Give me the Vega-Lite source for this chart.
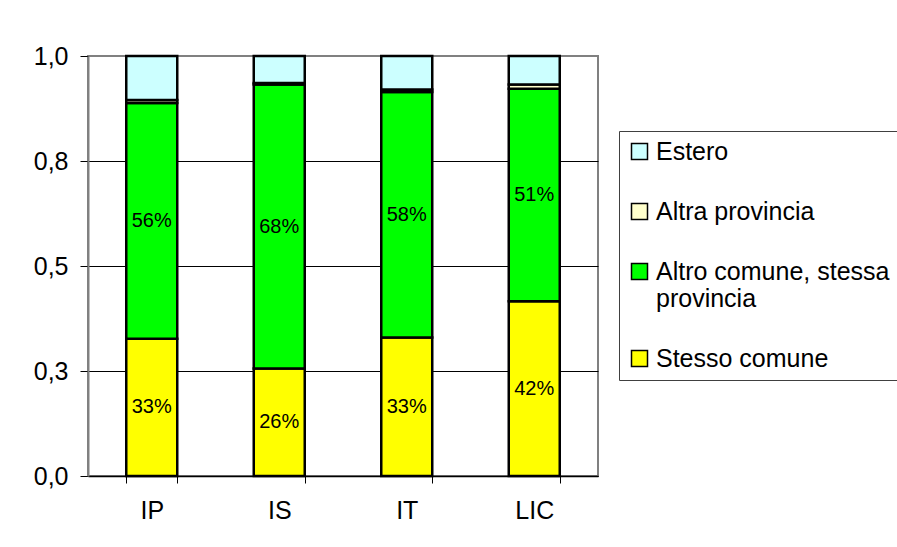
{
  "$schema": "https://vega.github.io/schema/vega-lite/v6.json",
  "width": 510,
  "height": 420,
  "autosize": {"type": "none"},
  "padding": {"left": 88, "top": 56, "right": 299, "bottom": 71},
  "background": "white",
  "config": {
    "font": "Liberation Sans",
    "view": {"stroke": "#808080", "strokeWidth": 2}
  },
  "data": {
    "values": [
      {"cat": "IP", "series": "Stesso comune", "k": 1, "share": 0.327},
      {"cat": "IP", "series": "Altro comune, stessa provincia", "k": 2, "share": 0.561},
      {"cat": "IP", "series": "Altra provincia", "k": 3, "share": 0.007},
      {"cat": "IP", "series": "Estero", "k": 4, "share": 0.105},
      {"cat": "IS", "series": "Stesso comune", "k": 1, "share": 0.256},
      {"cat": "IS", "series": "Altro comune, stessa provincia", "k": 2, "share": 0.676},
      {"cat": "IS", "series": "Altra provincia", "k": 3, "share": 0.004},
      {"cat": "IS", "series": "Estero", "k": 4, "share": 0.064},
      {"cat": "IT", "series": "Stesso comune", "k": 1, "share": 0.330},
      {"cat": "IT", "series": "Altro comune, stessa provincia", "k": 2, "share": 0.584},
      {"cat": "IT", "series": "Altra provincia", "k": 3, "share": 0.006},
      {"cat": "IT", "series": "Estero", "k": 4, "share": 0.080},
      {"cat": "LIC", "series": "Stesso comune", "k": 1, "share": 0.416},
      {"cat": "LIC", "series": "Altro comune, stessa provincia", "k": 2, "share": 0.506},
      {"cat": "LIC", "series": "Altra provincia", "k": 3, "share": 0.010},
      {"cat": "LIC", "series": "Estero", "k": 4, "share": 0.068}
    ]
  },
  "layer": [
    {
      "mark": {"type": "bar", "stroke": "black", "strokeWidth": 2.5},
      "encoding": {
        "x": {
          "field": "cat", "type": "nominal", "sort": ["IP", "IS", "IT", "LIC"],
          "scale": {"paddingInner": 0.6, "paddingOuter": 0.3},
          "axis": {
            "title": null, "tickBand": "extent", "labelAngle": 0,
            "labelFontSize": 25, "labelColor": "black", "labelFont": "Liberation Sans",
            "domainColor": "black", "domainWidth": 1.5, "tickColor": "black", "tickSize": 7,
            "labelPadding": 15, "grid": false
          }
        },
        "y": {
          "field": "share", "type": "quantitative",
          "scale": {"domain": [0, 1], "nice": false},
          "axis": {
            "title": null, "values": [0, 0.25, 0.5, 0.75, 1],
            "labelExpr": "replace(format(datum.value, '.1f'), '.', ',')",
            "labelFontSize": 25, "labelColor": "black", "labelFont": "Liberation Sans",
            "gridColor": {"condition": {"test": "datum.value == 1", "value": "#808080"}, "value": "black"},
            "gridWidth": 1,
            "tickSize": 8, "tickColor": "black", "labelPadding": 12,
            "domainColor": "#808080", "domainWidth": 2
          }
        },
        "color": {
          "field": "series", "type": "nominal",
          "scale": {
            "domain": ["Estero", "Altra provincia", "Altro comune, stessa provincia", "Stesso comune"],
            "range": ["#CCFFFF", "#FFFFCC", "#00FF00", "#FFFF00"]
          },
          "legend": {
            "orient": "none", "legendX": 531, "legendY": 75, "title": null,
            "symbolType": "square", "symbolSize": 256,
            "symbolStrokeColor": "black", "symbolStrokeWidth": 1.5,
            "labelFontSize": 25, "labelColor": "black", "labelFont": "Liberation Sans",
            "labelOffset": 4, "padding": 8, "rowPadding": 34,
            "strokeColor": "#404040", "fillColor": "white", "labelLimit": 400,
            "labelExpr": "datum.label == 'Altro comune, stessa provincia' ? ['Altro comune, stessa', 'provincia'] : datum.label"
          }
        },
        "order": {"field": "k", "type": "quantitative", "sort": "ascending"}
      }
    },
    {
      "transform": [
        {"stack": "share", "groupby": ["cat"], "sort": [{"field": "k", "order": "ascending"}], "as": ["v0", "v1"]},
        {"filter": "datum.k <= 2"},
        {"fold": ["v0", "v1"], "as": ["edge", "pos"]},
        {"aggregate": [{"op": "mean", "field": "pos", "as": "mid"}], "groupby": ["cat", "share"]}
      ],
      "mark": {"type": "text", "fontSize": 20, "font": "Liberation Sans", "color": "black", "baseline": "middle"},
      "encoding": {
        "x": {"field": "cat", "type": "nominal", "sort": ["IP", "IS", "IT", "LIC"], "axis": {"title": null}},
        "y": {"field": "mid", "type": "quantitative", "axis": {"title": null}},
        "text": {"field": "share", "type": "quantitative", "format": ".0%"}
      }
    }
  ]
}
